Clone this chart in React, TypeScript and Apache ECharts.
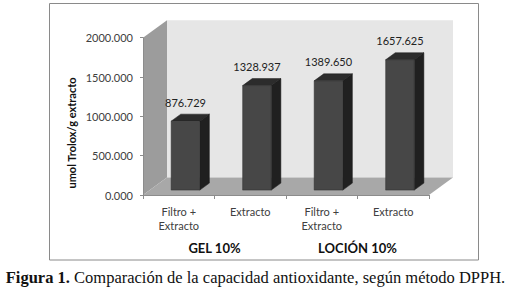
import React, { useEffect, useRef } from "react";
import * as echarts from "echarts";

const categories = ["Filtro +\nExtracto", "Extracto", "Filtro +\nExtracto", "Extracto"];
const values = [876.729, 1328.937, 1389.65, 1657.625];
const groups = ["GEL 10%", "LOCIÓN 10%"];
const yMin = 0;
const yMax = 2000;
const yInterval = 500;
const yAxisTitle = "umol Trolox/g extracto";
const captionBold = "Figura 1.";
const captionText = " Comparación de la capacidad antioxidante, según método DPPH.";

const DX = 24;
const DY = -17.5;
const FONT = "Lato, 'DejaVu Sans', sans-serif";
const SERIF = "'Liberation Serif', 'Times New Roman', serif";

export default function App() {
  const ref = useRef<HTMLDivElement>(null);
  useEffect(() => {
    if (!ref.current) return;
    const chart = echarts.init(ref.current, undefined, { renderer: "svg" });
    const option: any = {
      animation: false,
      backgroundColor: "#ffffff",
      grid: { left: 143, top: 37.7, width: 286, height: 157.3, containLabel: false },
      xAxis: [
        {
          type: "category",
          data: categories,
          z: 5,
          axisLine: { show: true, lineStyle: { color: "#8c8c8c", width: 1 } },
          axisTick: { show: true, alignWithLabel: false, length: 4, lineStyle: { color: "#8c8c8c" } },
          axisLabel: { color: "#404040", fontFamily: FONT, fontSize: 11, lineHeight: 14, margin: 9, interval: 0 },
          splitLine: { show: false },
        },
        {
          type: "category",
          data: groups,
          position: "bottom",
          offset: 45,
          z: 5,
          axisLine: { show: false },
          axisTick: { show: false },
          axisLabel: { color: "#111111", fontFamily: FONT, fontSize: 13, fontWeight: "bold", lineHeight: 15, margin: 0, interval: 0 },
          splitLine: { show: false },
        },
      ],
      yAxis: {
        type: "value",
        min: yMin,
        max: yMax,
        interval: yInterval,
        z: 5,
        axisLine: { show: true, lineStyle: { color: "#8c8c8c", width: 1 } },
        axisTick: { show: true, length: 3, lineStyle: { color: "#8c8c8c" } },
        axisLabel: {
          color: "#404040",
          fontFamily: FONT,
          fontSize: 11,
          margin: 10,
          formatter: (v: number) => v.toFixed(3),
        },
        splitLine: { show: false },
      },
      graphic: [
        {
          type: "rect",
          shape: { x: 49.5, y: 3.5, width: 429, height: 256.5 },
          style: { fill: "none", stroke: "#8a8a8a", lineWidth: 1 },
          z: 0,
        },
        {
          type: "text",
          x: 71,
          y: 133,
          rotation: Math.PI / 2,
          style: {
            text: yAxisTitle,
            fill: "#111111",
            font: `bold 11px ${FONT}`,
            textAlign: "center",
            textVerticalAlign: "middle",
          },
        },
        {
          type: "text",
          x: 255.5,
          y: 277,
          style: {
            text: `{b|${captionBold}}{n|${captionText}}`,
            textAlign: "center",
            textVerticalAlign: "middle",
            rich: {
              b: { fontFamily: SERIF, fontSize: 16.5, fontWeight: "bold", fill: "#111" },
              n: { fontFamily: SERIF, fontSize: 16.5, fill: "#111" },
            },
          },
        },
      ],
      series: [
        {
          type: "custom",
          z: 1,
          silent: true,
          data: [[0, 0]],
          renderItem: (params: any, api: any) => {
            const cs = params.coordSys;
            const x = cs.x, y = cs.y, w = cs.width, h = cs.height;
            return {
              type: "group",
              children: [
                {
                  type: "polygon",
                  shape: { points: [[x, y], [x + DX, y + DY], [x + DX, y + h + DY], [x, y + h]] },
                  style: { fill: "#9c9c9c" },
                },
                {
                  type: "rect",
                  shape: { x: x + DX, y: y + DY, width: w, height: h },
                  style: { fill: "#e6e6e6" },
                },
                {
                  type: "polygon",
                  shape: { points: [[x, y + h], [x + DX, y + h + DY], [x + w + DX, y + h + DY], [x + w, y + h]] },
                  style: { fill: "#a8a8a8" },
                },
              ],
            };
          },
        },
        {
          type: "custom",
          z: 3,
          data: values.map((v, i) => [i, v]),
          renderItem: (params: any, api: any) => {
            const idx = api.value(0);
            const v = api.value(1);
            const base = api.coord([idx, 0]);
            const top = api.coord([idx, v]);
            const band = api.size([1, 0])[0];
            const bw = band * 0.4;
            const ox = DX * 0.28, oy = DY * 0.28;
            const bx = DX * 0.4, by = DY * 0.4;
            const x0 = base[0] - bw / 2 + ox;
            const x1 = x0 + bw;
            const yb = base[1] + oy;
            const yt = top[1] + oy;
            return {
              type: "group",
              children: [
                {
                  type: "polygon",
                  shape: { points: [[x1, yt], [x1 + bx, yt + by], [x1 + bx, yb + by], [x1, yb]] },
                  style: { fill: "#202020", stroke: "#1a1a1a", lineWidth: 0.5 },
                },
                {
                  type: "polygon",
                  shape: { points: [[x0, yt], [x0 + bx, yt + by], [x1 + bx, yt + by], [x1, yt]] },
                  style: { fill: "#2c2c2c", stroke: "#1a1a1a", lineWidth: 0.5 },
                },
                {
                  type: "rect",
                  shape: { x: x0, y: yt, width: bw, height: yb - yt },
                  style: { fill: "#474747", stroke: "#2a2a2a", lineWidth: 0.5 },
                },
                {
                  type: "text",
                  x: x0 + bw / 2,
                  y: yt - 19,
                  style: {
                    text: v.toFixed(3),
                    fill: "#222222",
                    font: `11px ${FONT}`,
                    textAlign: "center",
                    textVerticalAlign: "middle",
                  },
                },
              ],
            };
          },
        },
      ],
    };
    chart.setOption(option);
    return () => chart.dispose();
  }, []);
  return (
    <div
      ref={ref}
      style={{ position: "fixed", left: 0, top: 0, width: 527, height: 299, background: "#fff" }}
    />
  );
}
